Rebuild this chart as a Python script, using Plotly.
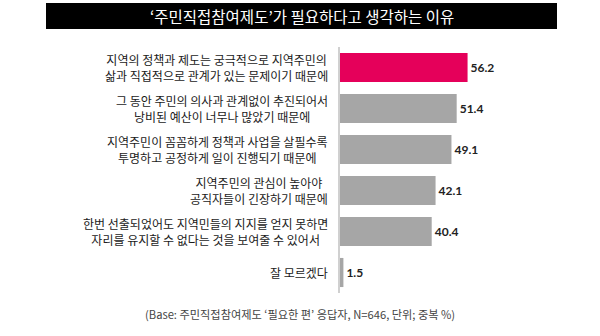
import plotly.graph_objects as go

# Survey reasons (multiple responses, %)
categories = [
    "지역의 정책과 제도는 궁극적으로 지역주민의<br>삶과 직접적으로 관계가 있는 문제이기 때문에",
    "그 동안 주민의 의사과 관계없이 추진되어서<br>낭비된 예산이 너무나 많았기 때문에",
    "지역주민이 꼼꼼하게 정책과 사업을 살필수록<br>투명하고 공정하게 일이 진행되기 때문에",
    "지역주민의 관심이 높아야<br>공직자들이 긴장하기 때문에",
    "한번 선출되었어도 지역민들의 지지를 얻지 못하면<br>자리를 유지할 수 없다는 것을 보여줄 수 있어서",
    "잘 모르겠다",
]
values = [56.2, 51.4, 49.1, 42.1, 40.4, 1.5]
value_labels = ["56.2", "51.4", "49.1", "42.1", "40.4", "1.5"]
title_text = "‘주민직접참여제도’가 필요하다고 생각하는 이유"
note_text = "(Base: 주민직접참여제도 ‘필요한 편’ 응답자, N=646, 단위; 중복 %)"

W, H = 600, 336
L, R, T, B = 340, 0, 47, 43
PW, PH = W - L - R, H - T - B

def px_x(p):
    return (p - L) / PW

def px_y(p):
    return (H - B - p) / PH

KFONT = "Noto Sans CJK KR"
colors = ["#E5005A"] + ["#A6A6A6"] * (len(values) - 1)
ids = list(range(len(values)))

fig = go.Figure(go.Bar(
    x=values, y=ids, orientation="h",
    marker=dict(color=colors, line=dict(width=0)),
    text=value_labels, textposition="outside", cliponaxis=False,
    textfont=dict(family="Lato", size=12, color="#222222", weight="bold"),
    width=0.71,
))

annotations = []
for i, c in enumerate(categories):
    annotations.append(dict(
        x=0, y=i, xref="x", yref="y", text=c, showarrow=False,
        xanchor="right", yanchor="middle", align="center", xshift=-10,
        font=dict(family=KFONT, size=12, color="#1a1a1a"),
    ))
annotations.append(dict(
    x=px_x(302), y=px_y(16), xref="paper", yref="paper", text=title_text,
    showarrow=False, xanchor="center", yanchor="middle",
    font=dict(family=KFONT, size=15.5, color="#ffffff"),
))
annotations.append(dict(
    x=px_x(300), y=px_y(314), xref="paper", yref="paper", text=note_text,
    showarrow=False, xanchor="center", yanchor="middle",
    font=dict(family=KFONT, size=11.2, color="#444444"),
))

fig.update_layout(
    width=W, height=H,
    margin=dict(l=L, r=R, t=T, b=B, pad=0),
    paper_bgcolor="white", plot_bgcolor="white",
    showlegend=False,
    xaxis=dict(range=[0, PW / 2.27], visible=False, fixedrange=True),
    yaxis=dict(range=[len(values) - 0.5, -0.5], showticklabels=False,
               showgrid=False, zeroline=False, showline=True,
               linecolor="#D0D0D0", linewidth=2, ticks=""),
    shapes=[dict(type="rect", xref="paper", yref="paper",
                 x0=px_x(46), x1=px_x(557), y0=px_y(29), y1=px_y(3),
                 fillcolor="#000000", line=dict(width=0), layer="below")],
    annotations=annotations,
)

fig.write_html("out.html")
